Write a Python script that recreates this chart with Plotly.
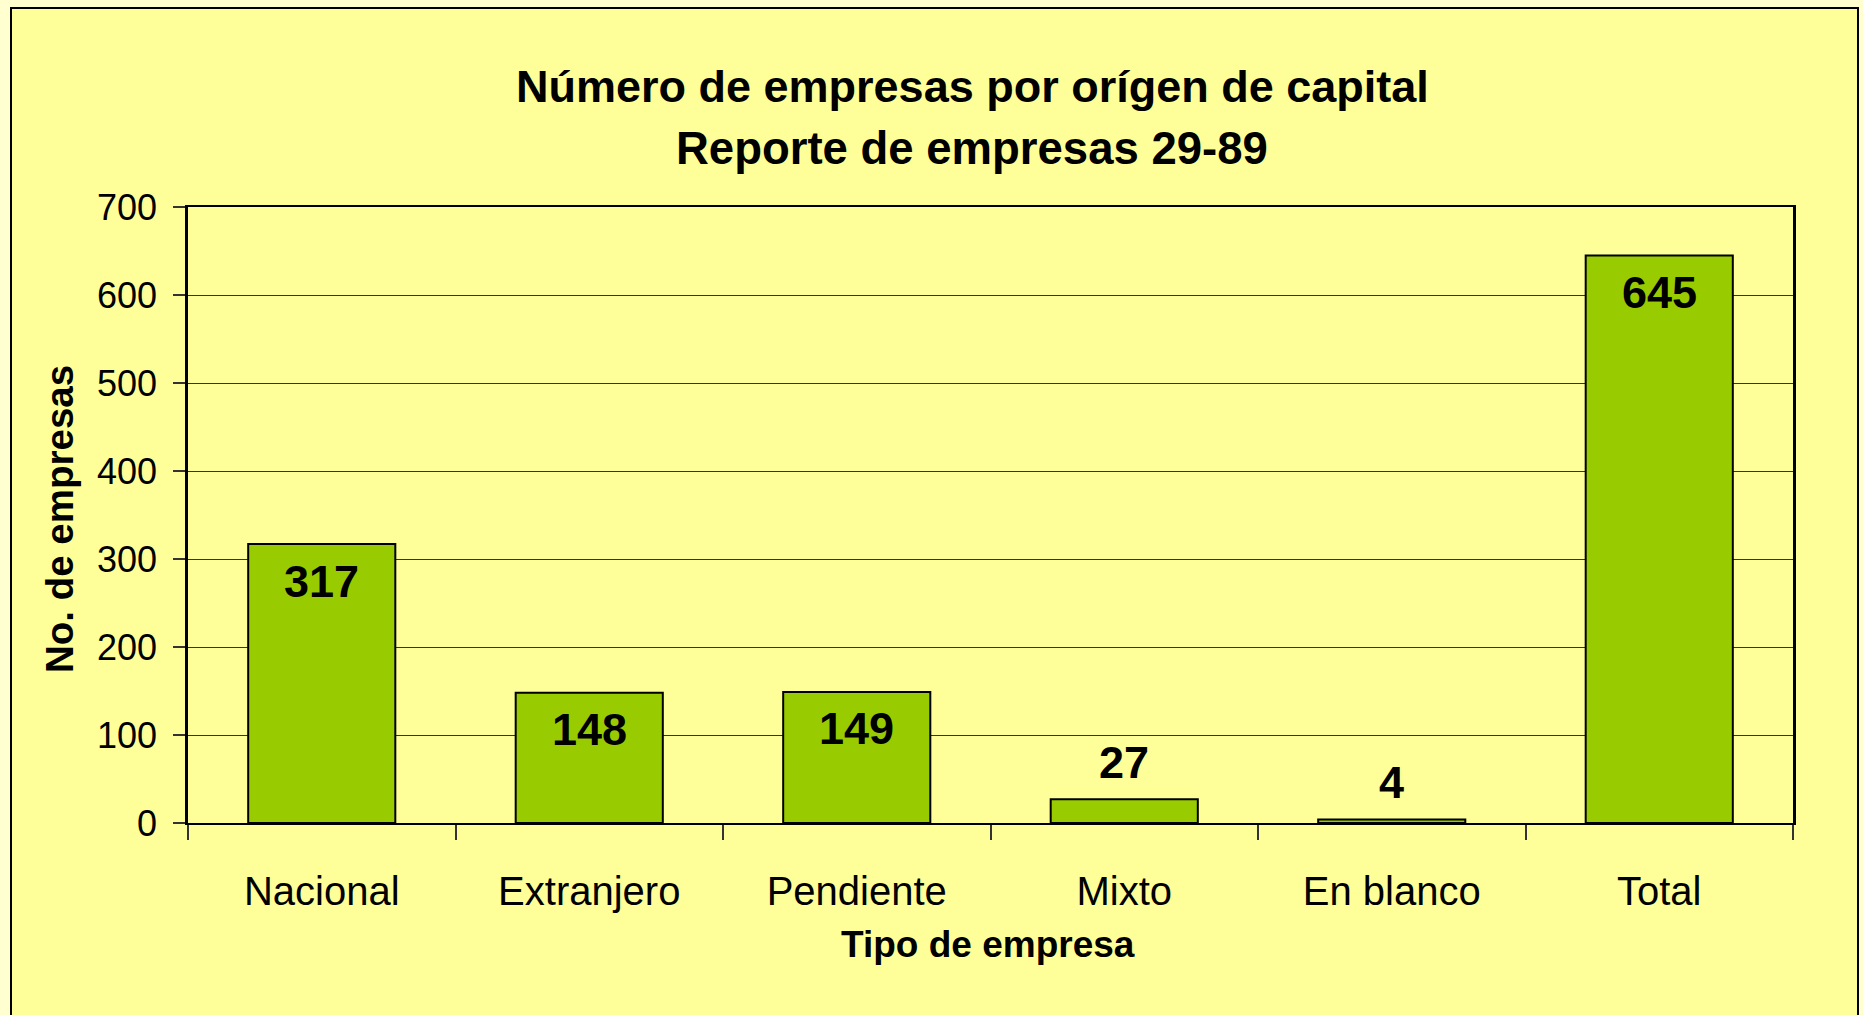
import plotly.graph_objects as go

categories = ["Nacional", "Extranjero", "Pendiente", "Mixto", "En blanco", "Total"]
values = [317, 148, 149, 27, 4, 645]
y_ticks = [0, 100, 200, 300, 400, 500, 600, 700]

W, H = 1863, 1015
L, R, T, B = 188, 1863 - 1793, 207, 1015 - 823
pw, ph = W - L - R, H - T - B

def px_x(x):
    return (x - L) / pw

def px_y(y):
    return (H - B - y) / ph

FONT = "Liberation Sans, Arial, sans-serif"

fig = go.Figure(go.Bar(
    x=categories,
    y=values,
    marker=dict(color="#99CC00", line=dict(color="black", width=2)),
    hoverinfo="x+y",
))

label_annotations = []
for c, v in zip(categories, values):
    inside = v > 60
    label_annotations.append(dict(
        x=c, y=v, xref="x", yref="y", text=f"<b>{v}</b>", showarrow=False,
        xanchor="center", yanchor="middle", yshift=-37 if inside else 37,
        font=dict(size=45, family=FONT, color="black"),
    ))

fig.update_layout(
    width=W, height=H,
    margin=dict(l=L, r=R, t=T, b=B, pad=0),
    paper_bgcolor="#FFFFD0",
    plot_bgcolor="#CCFFFF",
    bargap=0.45,
    showlegend=False,
    font=dict(family=FONT, color="black"),
    xaxis=dict(
        showline=True, linecolor="black", linewidth=2, mirror=True,
        ticks="outside", ticklen=15, tickcolor="#333333", tickwidth=1.5,
        tickson="boundaries", showgrid=False,
        tickfont=dict(size=40, family=FONT, color="black"),
        ticklabelstandoff=32,
    ),
    yaxis=dict(
        range=[0, 700], tickvals=y_ticks,
        showline=True, linecolor="black", linewidth=2.5, mirror=True,
        ticks="outside", ticklen=12, tickcolor="#333333", tickwidth=1.5,
        showgrid=True, gridcolor="#333333", gridwidth=1,
        tickfont=dict(size=36, family=FONT, color="black"),
        ticklabelstandoff=9, zeroline=False,
    ),
    shapes=[dict(
        type="rect", xref="paper", yref="paper", layer="below",
        x0=px_x(11), x1=px_x(1858), y0=px_y(1040), y1=px_y(8),
        fillcolor="#FFFF99", line=dict(color="black", width=2),
    )],
    annotations=[
        dict(text="<b>Número de empresas por orígen de capital</b>", xref="paper", yref="paper",
             x=px_x(972), y=px_y(86), xanchor="center", yanchor="middle", showarrow=False,
             font=dict(size=45, family=FONT, color="black")),
        dict(text="<b>Reporte de empresas 29-89</b>", xref="paper", yref="paper",
             x=px_x(972), y=px_y(148), xanchor="center", yanchor="middle", showarrow=False,
             font=dict(size=45.5, family=FONT, color="black")),
        dict(text="<b>Tipo de empresa</b>", xref="paper", yref="paper",
             x=px_x(988), y=px_y(944), xanchor="center", yanchor="middle", showarrow=False,
             font=dict(size=37, family=FONT, color="black")),
        dict(text="<b>No. de empresas</b>", xref="paper", yref="paper",
             x=px_x(59), y=px_y(519), xanchor="center", yanchor="middle", showarrow=False,
             textangle=-90, font=dict(size=38.5, family=FONT, color="black")),
    ] + label_annotations,
)

fig.write_html("out.html", config={"displayModeBar": False},
               post_script="document.body.style.margin='0';document.body.style.overflow='hidden';")
